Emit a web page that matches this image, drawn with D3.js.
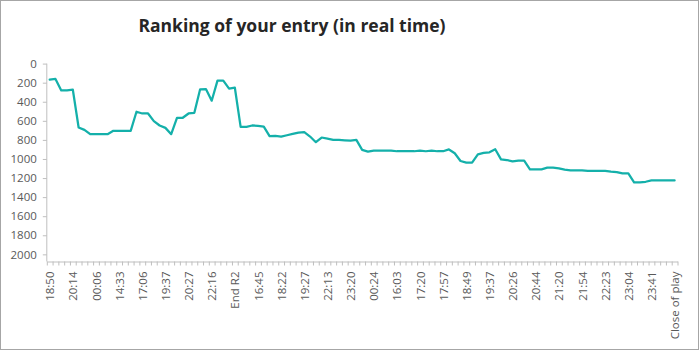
<!DOCTYPE html>
<html>
<head>
<meta charset="utf-8">
<script src="https://cdn.jsdelivr.net/npm/d3@7/dist/d3.min.js"></script>
<style>
  html, body { margin: 0; padding: 0; background: #fff; }
  svg { display: block; font-family: "Open Sans", "Noto Sans", sans-serif; }
</style>
</head>
<body>
<svg id="chart" width="699" height="350"></svg>
<script>
// Entry ranking snapshots, one per update (109 updates)
const ranking = [
  168, 161, 281, 281, 274, 670, 695, 740, 740, 740,
  740, 705, 705, 705, 705, 505, 523, 523, 603, 649,
  674, 740, 568, 568, 523, 516, 270, 267, 389, 179,
  179, 263, 253, 663, 663, 649, 653, 660, 761, 758,
  765, 751, 737, 723, 719, 765, 824, 775, 786, 800,
  800, 804, 807, 800, 905, 923, 912, 912, 912, 912,
  919, 919, 919, 919, 912, 919, 912, 919, 919, 900,
  940, 1021, 1039, 1039, 951, 937, 930, 898, 1004, 1011,
  1025, 1018, 1018, 1109, 1109, 1109, 1091, 1091, 1098, 1112,
  1119, 1119, 1119, 1126, 1126, 1126, 1126, 1133, 1137, 1151,
  1151, 1246, 1246, 1239, 1225, 1225, 1225, 1225, 1225
];

// Category labels shown on the axis (every 4th update)
const tickLabels = [
  "18:50", "20:14", "00:06", "14:33", "17:06", "19:37", "20:27", "22:16",
  "End R2", "16:45", "18:22", "19:27", "22:13", "23:20", "00:24", "16:03",
  "17:20", "17:57", "18:49", "19:37", "20:26", "20:44", "21:20", "21:54",
  "22:23", "23:04", "23:41", "Close of play"
];
const labelEvery = 4;

const yTicks = [0, 200, 400, 600, 800, 1000, 1200, 1400, 1600, 1800, 2000];
const yMax = 2075;

const title = "Ranking of your entry (in real time)";

const svg = d3.select("#chart");
const W = 699, H = 350;

const axisColor = "#bfbfbf";
const textColor = "#595959";
const lineColor = "#14b0aa";

// outer frame
svg.append("rect")
  .attr("x", 0.5).attr("y", 0.5)
  .attr("width", W - 1).attr("height", H - 1)
  .attr("fill", "#fff")
  .attr("stroke", "#a6a6a6")
  .attr("stroke-width", 1);

const plot = { left: 46.8, right: 677.5, top: 63.6, bottom: 261.5 };

const n = ranking.length;
const x = d3.scaleLinear().domain([-0.5, n - 0.5]).range([plot.left, plot.right]);
const y = d3.scaleLinear().domain([0, yMax]).range([plot.top, plot.bottom]);

// title
svg.append("text")
  .attr("x", 292).attr("y", 32)
  .attr("text-anchor", "middle")
  .attr("font-size", 17.5)
  .attr("font-weight", "bold")
  .attr("fill", "#262626")
  .text(title);

// y axis (rank, 0 at top)
const yAxis = svg.append("g")
  .attr("transform", `translate(${plot.left},0)`)
  .call(d3.axisLeft(y).tickValues(yTicks).tickSize(4).tickSizeOuter(0).tickPadding(6)
    .tickFormat(d3.format("d")));
yAxis.select(".domain").attr("stroke", axisColor).attr("d", `M0,${plot.top}V${plot.bottom}`);
yAxis.selectAll(".tick line").attr("stroke", axisColor);
yAxis.selectAll(".tick text")
  .attr("fill", textColor)
  .attr("font-size", 11.5)
  .attr("font-family", "\"Open Sans\", sans-serif");

// x axis: tick marks between categories
const edges = d3.range(n + 1).map(i => i - 0.5);
const xAxis = svg.append("g")
  .attr("transform", `translate(0,${plot.bottom})`)
  .call(d3.axisBottom(x).tickValues(edges).tickSize(4).tickSizeOuter(0).tickFormat(() => ""));
xAxis.select(".domain").attr("stroke", axisColor);
xAxis.selectAll(".tick line").attr("stroke", axisColor);

// x axis labels, rotated, every 4th category
const labelIdx = tickLabels.map((_, k) => k * labelEvery);
const xLabels = svg.append("g")
  .attr("transform", `translate(0,${plot.bottom})`)
  .call(d3.axisBottom(x).tickValues(labelIdx).tickSize(0)
    .tickFormat((d, k) => tickLabels[k]));
xLabels.select(".domain").remove();
xLabels.selectAll(".tick text")
  .attr("fill", textColor)
  .attr("font-size", 11.5)
  .attr("font-family", "\"Open Sans\", sans-serif")
  .attr("text-anchor", "end")
  .attr("transform", "rotate(-90)")
  .attr("x", -10)
  .attr("y", 0)
  .attr("dy", "0.35em");

// ranking line
const line = d3.line()
  .x((d, i) => x(i))
  .y(d => y(d));

svg.append("path")
  .datum(ranking)
  .attr("fill", "none")
  .attr("stroke", lineColor)
  .attr("stroke-width", 2.25)
  .attr("stroke-linejoin", "round")
  .attr("stroke-linecap", "round")
  .attr("d", line);
</script>
</body>
</html>
